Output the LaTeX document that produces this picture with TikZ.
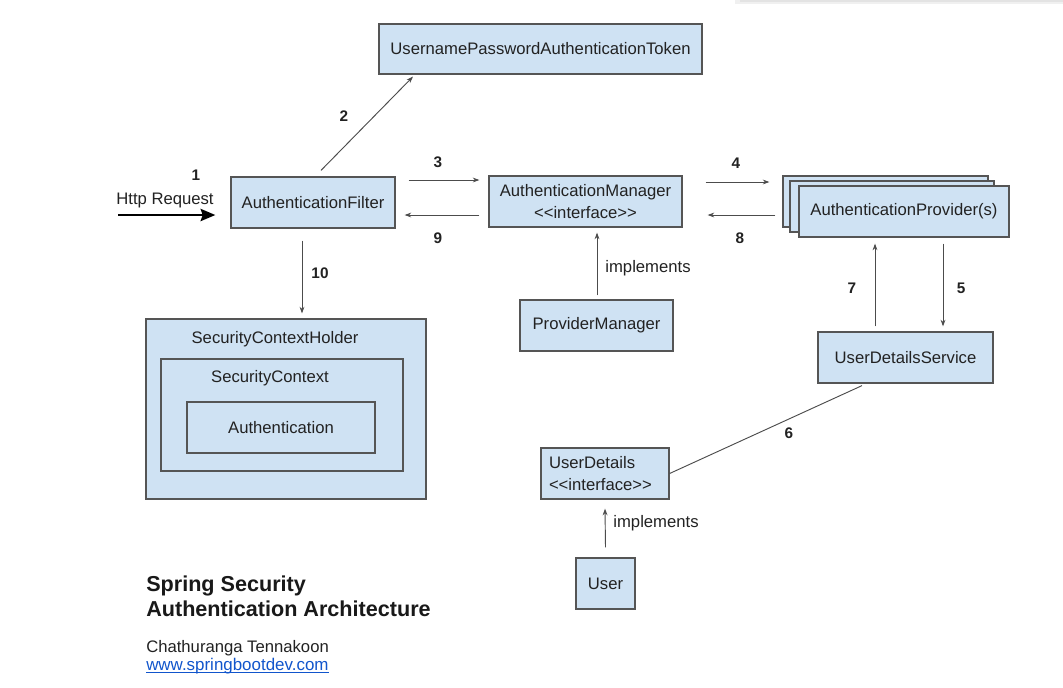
\documentclass[tikz,border=0pt]{standalone}
\usepackage{fontspec}
\setmainfont{Liberation Sans}
\usetikzlibrary{calc,arrows.meta}
\definecolor{boxfill}{HTML}{CFE2F3}
\definecolor{boxline}{HTML}{555555}
\definecolor{linkblue}{HTML}{1155CC}
\definecolor{txt}{HTML}{222222}
\begin{document}
\begin{tikzpicture}[x=0.75pt,y=-0.75pt,
  box/.style={draw=boxline, fill=boxfill, line width=0.9pt, inner sep=0pt, text=txt,
              font=\fontsize{12.5}{15}\selectfont},
  plain/.style={inner sep=0pt, text=txt, font=\fontsize{12.5}{15}\selectfont},
  arr/.style={draw=black!70, line width=0.7pt, -{Stealth[length=5pt,width=3.6pt]}},
  num/.style={inner sep=0pt, text=txt, font=\bfseries\fontsize{11.5}{14}\selectfont},
  big/.style={draw=black, line width=2.2pt, -{Stealth[length=11pt,width=9pt,inset=1.5pt]}}]
\useasboundingbox (0,0) rectangle (1063,687);
\fill[white] (0,0) rectangle (1063,687);
\fill[gray!12] (735,0) rectangle (1063,3.5);
\fill[gray!22] (740,0) rectangle (1063,2);

% boxes
\node[box, minimum width=242.25pt, minimum height=37.5pt] (upat) at (540.5,49) {UsernamePasswordAuthenticationToken};
\node[box, minimum width=123pt, minimum height=38.25pt] (af) at (313,202.5) {AuthenticationFilter};
\node[box, minimum width=144.75pt, minimum height=38.25pt, align=center] (am) at (585.5,201.5) {AuthenticationManager\\[1pt]{<}{<}interface{>}{>}};
\node[box, minimum width=153.75pt, minimum height=38.25pt] (ap3) at (885.5,201.5) {};
\node[box, minimum width=153pt, minimum height=38.25pt] (ap2) at (892,206.5) {};
\node[box, minimum width=157.5pt, minimum height=38.25pt] (ap) at (904,211.5) {AuthenticationProvider(s)};
\node[box, minimum width=114.75pt, minimum height=38.25pt] (pm) at (596.5,325.5) {ProviderManager};
\node[box, minimum width=131.25pt, minimum height=38.25pt] (uds) at (905.5,357.5) {UserDetailsService};
\node[box, minimum width=210pt, minimum height=135pt] (sch) at (286,409) {};
\node[box, minimum width=181.5pt, minimum height=84pt] (sc) at (282,415) {};
\node[box, minimum width=141pt, minimum height=38.25pt] (auth) at (281,427.5) {Authentication};
\node[plain] (schl) at (275,339) {SecurityContextHolder};
\node[plain] (scl) at (270,378) {SecurityContext};
\node[box, minimum width=96pt, minimum height=38.25pt, align=left, text width=84pt] (ud) at (605,473.5) {UserDetails\\[1pt]{<}{<}interface{>}{>}};
\node[box, minimum width=44.25pt, minimum height=38.25pt] (user) at (605.5,583.5) {User\hspace{5pt}};

% http request
\coordinate (httpstart) at (118,215);
\draw[big] (httpstart) -- ($(af.west)+(-15,12.5)$);
\node[plain] (httpl) at (165,200) {Http Request};
\node[num] (n1) at (196,175) {1};

% 2
\draw[arr] ($(af.north)+(8,-6)$) -- ($(upat.south)+(-127.5,2)$);
\node[num] (n2) at (344,116) {2};
% 3
\draw[arr] ($(af.east)+(13,-22.5)$) -- ($(am.west)+(-9,-21.5)$);
\node[num] (n3) at (438,162) {3};
% 9
\draw[arr] ($(am.west)+(-9,13.5)$) -- ($(af.east)+(9,12.5)$);
\node[num] (n9) at (438,238) {9};
% 4
\draw[arr] ($(am.east)+(23,-19.5)$) -- ($(ap3.west)+(-13,-19.5)$);
\node[num] (n4) at (736,163) {4};
% 8
\draw[arr] ($(ap3.west)+(-7,13.5)$) -- ($(am.east)+(25,13.5)$);
\node[num] (n8) at (740,238) {8};
% 10
\draw[arr] ($(af.south)+(-11,12)$) -- ($(sch.north)+(16,-5)$);
\node[num] (n10) at (320,273) {10};
% implements (ProviderManager)
\draw[arr] ($(pm.north)+(0.5,-4)$) -- ($(am.south)+(11.5,5)$);
\node[plain] (impl1) at (648,268) {implements};
% 7
\draw[arr] ($(uds.north)+(-30.5,-5)$) -- ($(ap.south)+(-29,6)$);
\node[num] (n7) at (852,288) {7};
% 5
\draw[arr] ($(ap.south)+(39,6)$) -- ($(uds.north)+(37.5,-5)$);
\node[num] (n5) at (961,288) {5};
% 6
\draw[draw=black!70, line width=0.7pt] ($(uds.south)+(-43.5,2)$) -- (ud.east);
\node[num] (n6) at (789,433) {6};
% implements (User)
\draw[arr] ($(user.north)+(0,-10)$) -- ($(ud.south)+(0,9)$);
\node[plain] (impl2) at (656,523) {implements};

% title and author
\node[anchor=base west, inner sep=0pt, text=black!90, font=\bfseries\fontsize{16.2}{19}\selectfont] (t1) at (146,591) {Spring Security};
\node[anchor=base west, inner sep=0pt, text=black!90, font=\bfseries\fontsize{16.2}{19}\selectfont] (t2) at (146,616) {Authentication Architecture};
\node[anchor=base west, plain] (author) at (146,652) {Chathuranga Tennakoon};
\node[anchor=base west, inner sep=0pt, text=linkblue, font=\fontsize{12.7}{15}\selectfont] (link) at (146,670) {www.springbootdev.com};
\draw[linkblue, line width=0.6pt] ($(link.base west)+(0,2.2)$) -- ($(link.base east)+(0,2.2)$);
\end{tikzpicture}
\end{document}
